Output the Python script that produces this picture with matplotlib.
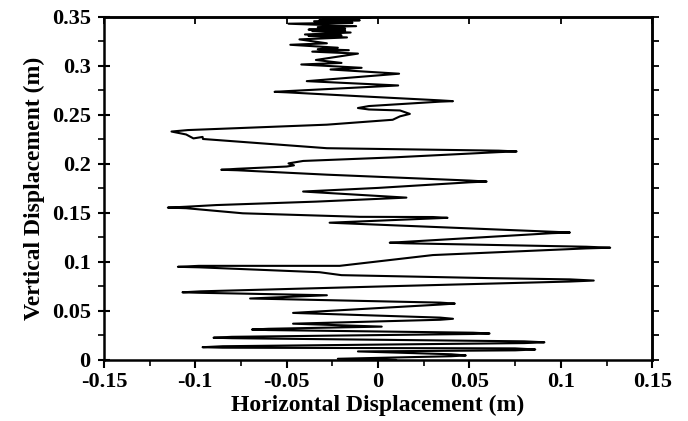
import numpy as np
import matplotlib
matplotlib.use('Agg')
import matplotlib.pyplot as plt
from matplotlib.ticker import MultipleLocator

# 軌跡データ（図から読み取った折り返し点と途中点）
x_disp = [
    0.010, -0.022,
    0.040, 0.048, 0.040, -0.011,
    0.075, 0.086, 0.075,
    -0.085, -0.096, -0.085,
    0.080, 0.091, 0.080,
    -0.080, -0.090, -0.080,
    0.052, 0.061, 0.052,
    -0.060, -0.069, -0.060,
    0.002, -0.0465,
    0.034, 0.041, 0.034, -0.0465,
    0.034, 0.042, 0.034,
    -0.070, -0.028,
    -0.097, -0.107, -0.097,
    0.0064,
    0.105, 0.118, 0.105,
    0.060, -0.020, -0.032,
    -0.098, -0.1095, -0.098,
    -0.021, 0.030,
    0.114, 0.127, 0.114,
    0.015, 0.0064, 0.015,
    0.095, 0.105, 0.095,
    -0.0265,
    0.030, 0.038, 0.030,
    -0.010, -0.074,
    -0.105, -0.115, -0.105,
    -0.0885, -0.034, 0.0155,
    -0.041, 0.000,
    0.050, 0.0594, 0.050,
    -0.028,
    -0.077, -0.0858, -0.077,
    -0.050, -0.046, -0.049, -0.041, 0.008,
    0.066, 0.0758, 0.066,
    -0.028, -0.0958, -0.096, -0.101,
    -0.105, -0.113, -0.104,
    -0.028, 0.008,
    0.012, 0.0174, 0.012,
    -0.005, -0.011, -0.005,
    0.034, 0.041, 0.034,
    -0.010,
    -0.050, -0.0566, -0.050,
    0.011, -0.039,
    0.0115, -0.026, -0.009, -0.042, -0.020, -0.034, -0.011, -0.036,
    -0.016, -0.033, -0.022, -0.048, -0.028, -0.043, -0.017, -0.038,
    -0.020, -0.040, -0.015, -0.036, -0.018, -0.038,
    -0.018, -0.033, -0.012, -0.049, -0.014, -0.035, -0.010, -0.032,
    -0.018, -0.030, -0.004, -0.028, -0.015, -0.022,
]
y_disp = [
    0.000, 0.0012,
    0.0038, 0.0046, 0.0058, 0.0087,
    0.0098, 0.0107, 0.0118,
    0.0125, 0.013, 0.0140,
    0.0172, 0.018, 0.0190,
    0.0222, 0.0227, 0.0236,
    0.0265, 0.027, 0.0278,
    0.0305, 0.031, 0.0318,
    0.034, 0.037,
    0.041, 0.042, 0.0432, 0.048,
    0.0565, 0.0575, 0.0585,
    0.0627, 0.066,
    0.0685, 0.069, 0.0700,
    0.0752,
    0.0800, 0.081, 0.0822,
    0.0835, 0.0865, 0.0895,
    0.0945, 0.095, 0.0960,
    0.096, 0.107,
    0.1138, 0.1145, 0.1155,
    0.1190, 0.1196, 0.1205,
    0.1293, 0.130, 0.1308,
    0.140,
    0.1443, 0.145, 0.1458,
    0.146, 0.1496,
    0.1548, 0.1554, 0.1563,
    0.158, 0.1615, 0.1656,
    0.1718, 0.1755,
    0.1812, 0.182, 0.1830,
    0.189,
    0.1935, 0.194, 0.1950,
    0.1973, 0.1985, 0.2005, 0.203, 0.2066,
    0.2120, 0.2127, 0.2135,
    0.216, 0.2254, 0.2275, 0.226,
    0.2300, 0.233, 0.2345,
    0.240, 0.245,
    0.2485, 0.251, 0.2545,
    0.2555, 0.257, 0.2590,
    0.2635, 0.264, 0.2648,
    0.269,
    0.2730, 0.2735, 0.2742,
    0.280, 0.2844,
    0.292, 0.2963, 0.298, 0.3014, 0.303, 0.306, 0.3125, 0.3145,
    0.316, 0.317, 0.3185, 0.3215, 0.323, 0.327, 0.329, 0.3305,
    0.331, 0.332, 0.334, 0.3355, 0.336, 0.337,
    0.338, 0.3395, 0.3405, 0.343, 0.344, 0.3455, 0.3465, 0.347,
    0.3478, 0.3485, 0.349, 0.3493, 0.3497, 0.350,
]

x_ticks = [-0.15, -0.1, -0.05, 0, 0.05, 0.1, 0.15]
x_tick_labels = ['-0.15', '-0.1', '-0.05', '0', '0.05', '0.1', '0.15']
y_ticks = [0, 0.05, 0.1, 0.15, 0.2, 0.25, 0.3, 0.35]
y_tick_labels = ['0', '0.05', '0.1', '0.15', '0.2', '0.25', '0.3', '0.35']

plt.rcParams['font.family'] = ['Liberation Serif', 'DejaVu Serif']
plt.rcParams['font.weight'] = 'bold'
plt.rcParams['axes.unicode_minus'] = False

fig = plt.figure(figsize=(6.88, 4.21), dpi=100)
ax = fig.add_axes([0.151, 0.145, 0.797, 0.815])

ax.plot(x_disp, y_disp, color='black', linewidth=1.5,
        solid_joinstyle='round', solid_capstyle='round')

ax.set_xlim(-0.15, 0.15)
ax.set_ylim(0, 0.35)

ax.set_xticks(x_ticks)
ax.set_xticklabels(x_tick_labels, fontsize=16, fontweight='bold')
ax.set_yticks(y_ticks)
ax.set_yticklabels(y_tick_labels, fontsize=16, fontweight='bold')
ax.xaxis.set_minor_locator(MultipleLocator(0.025))
ax.yaxis.set_minor_locator(MultipleLocator(0.025))

ax.tick_params(axis='x', which='major', direction='out', length=6, width=1.5, pad=3)
ax.tick_params(axis='x', which='minor', direction='out', length=4, width=1.2)
ax.tick_params(axis='y', which='major', direction='inout', length=9, width=1.5, pad=5)
ax.tick_params(axis='y', which='minor', direction='out', length=4, width=1.2)

for sp in ax.spines.values():
    sp.set_linewidth(1.8)

# 上側と右側の目盛り
top = ax.secondary_xaxis('top')
top.set_xticks(x_ticks)
top.set_xticklabels([])
top.tick_params(direction='in', length=5, width=1.3)
top.spines['top'].set_linewidth(1.8)

right = ax.secondary_yaxis('right')
right.set_yticks(np.arange(0, 0.351, 0.025))
right.set_yticklabels([])
right.tick_params(direction='out', length=5, width=1.3)
right.spines['right'].set_linewidth(1.8)

ax.set_xlabel('Horizontal Displacement (m)', fontsize=17, fontweight='bold', labelpad=2)
ax.set_ylabel('Vertical Displacement (m)', fontsize=17, fontweight='bold', labelpad=5)

fig.savefig('out.png', dpi=100)
plt.close(fig)
